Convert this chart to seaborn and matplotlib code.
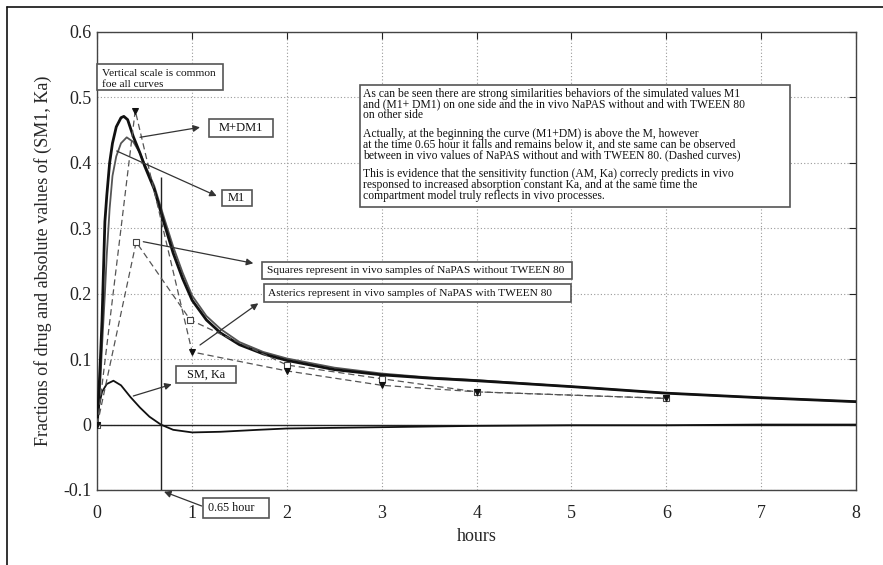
import matplotlib
matplotlib.use("Agg")
import matplotlib.pyplot as plt
from matplotlib.transforms import Affine2D
from matplotlib.patches import Rectangle
from matplotlib.lines import Line2D
import seaborn as sns
import numpy as np

# ---------------- data ----------------
t_mdm = [0, 0.03, 0.05, 0.08, 0.10, 0.13, 0.16, 0.20, 0.25, 0.28, 0.32, 0.38, 0.45, 0.50,
         0.60, 0.70, 0.80, 0.90, 1.00, 1.15, 1.30, 1.50, 1.75, 2.00, 2.50, 3.00, 3.50,
         4.00, 5.00, 6.00, 7.00, 8.00]
v_mdm = [0, 0.09, 0.16, 0.31, 0.35, 0.40, 0.43, 0.455, 0.469, 0.471, 0.466, 0.44, 0.415, 0.395,
         0.36, 0.31, 0.262, 0.223, 0.19, 0.16, 0.14, 0.122, 0.108, 0.098, 0.084, 0.076, 0.071,
         0.067, 0.058, 0.048, 0.041, 0.035]

t_m1 = [0, 0.03, 0.05, 0.08, 0.10, 0.13, 0.16, 0.20, 0.25, 0.31, 0.38, 0.45, 0.50, 0.60,
        0.70, 0.80, 0.90, 1.00, 1.15, 1.30, 1.50, 1.75, 2.00, 2.50, 3.00, 3.50, 4.00,
        5.00, 6.00, 7.00, 8.00]
v_m1 = [0, 0.06, 0.12, 0.20, 0.26, 0.33, 0.38, 0.41, 0.43, 0.439, 0.432, 0.415, 0.398, 0.365,
        0.318, 0.272, 0.232, 0.197, 0.166, 0.146, 0.126, 0.111, 0.101, 0.087, 0.078, 0.072, 0.068,
        0.058, 0.048, 0.041, 0.035]

t_sm = [0, 0.02, 0.05, 0.10, 0.17, 0.25, 0.35, 0.45, 0.55, 0.67, 0.80, 1.00, 1.30, 1.70,
        2.00, 2.50, 3.00, 4.00, 5.00, 6.00, 7.00, 8.00]
v_sm = [0, 0.03, 0.05, 0.062, 0.067, 0.06, 0.042, 0.026, 0.012, 0, -0.008, -0.012, -0.011, -0.008,
        -0.006, -0.005, -0.004, -0.002, -0.001, -0.001, 0, 0]

t_sq = [0, 0.41, 0.98, 2.0, 3.0, 4.0, 6.0]
v_sq = [0, 0.279, 0.160, 0.091, 0.070, 0.050, 0.040]

t_ast = [0, 0.40, 1.0, 2.0, 3.0, 4.0, 6.0]
v_ast = [0, 0.480, 0.111, 0.082, 0.060, 0.050, 0.040]

t_mark = 0.67        # the "0.65 hour" vertical marker
v_mark_top = 0.378

x_ticks = [0, 1, 2, 3, 4, 5, 6, 7, 8]
x_ticklabels = ["0", "1", "2", "3", "4", "5", "6", "7", "8"]
y_ticks = [-0.1, 0, 0.1, 0.2, 0.3, 0.4, 0.5, 0.6]
y_ticklabels = ["-0.1", "0", "0.1", "0.2", "0.3", "0.4", "0.5", "0.6"]

big_text = [
    "As can be seen there are strong similarities behaviors of the simulated values M1",
    "and (M1+ DM1) on one side and the in vivo NaPAS without and with TWEEN 80",
    "on other side",
    "Actually, at the beginning the curve (M1+DM) is above the M, however",
    "at the time 0.65 hour it falls and remains below it, and ste same can be observed",
    "between in vivo values of NaPAS without and with TWEEN 80. (Dashed curves)",
    "This is evidence that the sensitivity function (AM, Ka) correcly predicts in vivo",
    "responsed to increased absorption constant Ka, and at the same time the",
    "compartment model truly reflects in vivo processes.",
]

# ---------------- style ----------------
sns.set_theme(style="white")
plt.rcParams["font.family"] = ["Liberation Serif", "DejaVu Serif"]
plt.rcParams["axes.edgecolor"] = "#333333"

W, H = 883, 565
fig = plt.figure(figsize=(W / 100, H / 100), dpi=100)
L, R, T, B = 97.3, 856, 32, 490
ax = fig.add_axes([L / W, 1 - B / H, (R - L) / W, (B - T) / H])

# pixel transform (image coordinates, y downward)
PX = Affine2D().scale(1 / W, -1 / H).translate(0, 1) + fig.transFigure

ax.set_xlim(0, 8)
ax.set_ylim(-0.1, 0.6)
ax.set_xticks(x_ticks)
ax.set_xticklabels(x_ticklabels)
ax.set_yticks(y_ticks)
ax.set_yticklabels(y_ticklabels)
ax.tick_params(direction="in", length=5, width=0.8, top=True, right=True,
               labelsize=13, colors="#222222")
ax.tick_params(axis="x", pad=11)
ax.tick_params(axis="y", pad=4)
ax.grid(True, linestyle=(0, (1, 2)), color="#9a9a9a", linewidth=0.8)
for s in ax.spines.values():
    s.set_linewidth(1.0)
    s.set_color("#444444")

ax.set_xlabel("hours", fontsize=13, labelpad=4)
ax.set_ylabel("Fractions of drug and absolute values of (SM1, Ka)", fontsize=13, labelpad=8)

ax.axhline(0, color="#222222", lw=1.0, zorder=2)

# curves
sns.lineplot(x=t_m1, y=v_m1, ax=ax, color="#555555", lw=1.3, zorder=3)
sns.lineplot(x=t_mdm, y=v_mdm, ax=ax, color="#111111", lw=2.0, zorder=4)
sns.lineplot(x=t_sm, y=v_sm, ax=ax, color="#111111", lw=1.3, zorder=4)

sns.lineplot(x=t_sq, y=v_sq, ax=ax, color="#555555", lw=0.9, linestyle=(0, (5, 3)),
             marker="s", markersize=5, markerfacecolor="white", markeredgecolor="#444444",
             markeredgewidth=0.8, zorder=5)
sns.lineplot(x=t_ast, y=v_ast, ax=ax, color="#555555", lw=0.9, linestyle=(0, (5, 3)),
             marker="v", markersize=5, markerfacecolor="#111111", markeredgecolor="#111111",
             zorder=6)

ax.vlines(t_mark, -0.1, v_mark_top, color="#222222", lw=1.0, zorder=4)

# ---------------- annotations ----------------
def box(x0, y0, x1, y1):
    fig.add_artist(Rectangle((x0, y0), x1 - x0, y1 - y0, transform=PX, fill=True,
                             facecolor="white", edgecolor="#555555", lw=1.2, zorder=10))

def txt(x, y, s, size=8, ha="left"):
    fig.text(x, y, s, transform=PX, fontsize=size, ha=ha, va="center",
             color="#111111", zorder=11)

def arrow(tail, head):
    ax.annotate("", xy=head, xycoords=PX, xytext=tail, textcoords=PX,
                annotation_clip=False,
                arrowprops=dict(arrowstyle="-|>", color="#333333", lw=0.9,
                                mutation_scale=10, shrinkA=0, shrinkB=0), zorder=9)

box(97.3, 64, 223, 90)
txt(102, 73.3, "Vertical scale is common", 8.2)
txt(102, 84.3, "foe all curves", 8.2)

box(209, 119, 273, 137)
txt(241, 128, "M+DM1", 9, "center")
arrow((140, 137.3), (200, 127.3))

box(221.7, 190, 251.7, 205.7)
txt(236.7, 197.9, "M1", 9, "center")
arrow((116.7, 151), (216.7, 196))

box(175.7, 366, 235.7, 382.7)
txt(205.7, 374.4, "SM, Ka", 8.8, "center")
arrow((133.3, 396), (171.7, 384.3))

box(203.3, 498, 269, 518)
txt(207.5, 508, "0.65 hour", 8.7)
arrow((201.7, 506), (164, 491.7))

box(262.3, 261.7, 571.7, 279)
txt(266.7, 270.3, "Squares represent in vivo samples of NaPAS without TWEEN 80", 8.2)
arrow((143.3, 241.7), (253.3, 263.3))

box(264, 284.3, 570.7, 302.3)
txt(268, 293.3, "Asterics represent in vivo samples of NaPAS with TWEEN 80", 8.2)
arrow((200, 345), (258.3, 303.3))

box(360, 85, 790, 207)
line_y = [93.5, 104.5, 115.5, 133.5, 144.5, 155.5, 174, 185, 196]
for s, yy in zip(big_text, line_y):
    txt(363.3, yy, s, 8.4)

# partial outer frame (left and top)
fig.add_artist(Line2D([7.3, 7.3], [7.3, 565], transform=PX, color="#111111", lw=1.2))
fig.add_artist(Line2D([7.3, 883], [7.3, 7.3], transform=PX, color="#111111", lw=1.2))

fig.savefig("out.png", dpi=100)
